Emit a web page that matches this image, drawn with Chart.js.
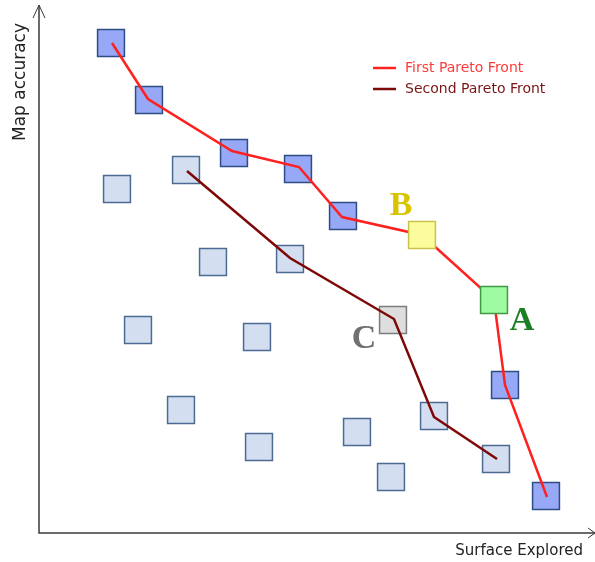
<!DOCTYPE html>
<html lang="en">
<head>
<meta charset="UTF-8" />
<title>Pareto Fronts</title>
<style>
  html, body { margin: 0; padding: 0; background: #fff; }
  #wrap { width: 595px; height: 562px; }
</style>
</head>
<body>
<div id="wrap"><canvas id="chart" width="595" height="562"></canvas></div>

<script src="https://cdn.jsdelivr.net/npm/chart.js"></script>
<script>
// values (arbitrary units, origin at the axes corner)
const firstFrontX = [73, 109, 193, 260, 303, 383, 455, 466, 508];
const firstFrontY = [490, 434, 382, 366, 316, 298, 233, 148, 36];

const secondFrontX = [148, 251, 355, 395, 458];
const secondFrontY = [362, 275, 214, 116, 74];

const frontPointX = [72, 110, 195, 259, 304, 466, 507];
const frontPointY = [490, 433, 380, 364, 317, 148, 37];

const otherPointX = [78, 147, 174, 251, 99, 218, 142, 220, 318, 395, 352, 457];
const otherPointY = [344, 363, 271, 274, 203, 196, 123, 86, 101, 117, 56, 74];

const markedLabels = ["B", "A"];
const markedX = [383, 455];
const markedY = [298, 233];

const cLabel = ["C"];
const cX = [354];
const cY = [213];

const xTitle = "Surface Explored";
const yTitle = "Map accuracy";

const toPts = (xs, ys) => xs.map((x, i) => ({ x: x, y: ys[i] }));

// axes with open arrow heads, titles, legend and A/B/C letters
const decor = {
  id: 'decor',
  afterDatasetsDraw(chart) {
    const ctx = chart.ctx;
    const a = chart.chartArea;
    ctx.save();
    ctx.strokeStyle = '#3a3a3a';
    ctx.lineWidth = 1.5;
    ctx.beginPath();
    ctx.moveTo(a.left, a.top);
    ctx.lineTo(a.left, a.bottom);
    ctx.lineTo(a.right, a.bottom);
    ctx.stroke();
    ctx.lineWidth = 1;
    ctx.beginPath();
    ctx.moveTo(a.left - 6, a.top + 13);
    ctx.lineTo(a.left, a.top);
    ctx.lineTo(a.left + 6, a.top + 13);
    ctx.moveTo(a.right - 7, a.bottom - 5);
    ctx.lineTo(a.right, a.bottom);
    ctx.lineTo(a.right - 7, a.bottom + 5);
    ctx.stroke();

    ctx.fillStyle = '#222';
    ctx.font = '15px "DejaVu Sans"';
    ctx.textAlign = 'right';
    ctx.textBaseline = 'middle';
    ctx.fillText(xTitle, 583, 551);
    ctx.translate(21, 82);
    ctx.rotate(-Math.PI / 2);
    ctx.textAlign = 'center';
    ctx.font = '17px "DejaVu Sans"';
    ctx.fillText(yTitle, 0, 0);
    ctx.restore();

    // legend
    ctx.save();
    ctx.font = '14px "DejaVu Sans"';
    ctx.textBaseline = 'middle';
    ctx.textAlign = 'left';
    const leg = [
      { ds: chart.data.datasets[1], y: 68, text: '#ff3a3a' },
      { ds: chart.data.datasets[2], y: 89, text: '#7a1414' }
    ];
    leg.forEach(l => {
      ctx.strokeStyle = l.ds.borderColor;
      ctx.lineWidth = l.ds.borderWidth;
      ctx.beginPath();
      ctx.moveTo(373, l.y);
      ctx.lineTo(396, l.y);
      ctx.stroke();
      ctx.fillStyle = l.text;
      ctx.fillText(l.ds.label, 405, l.y);
    });
    ctx.restore();

    // letters next to the marked points
    const xs = chart.scales.x, ys = chart.scales.y;
    ctx.save();
    ctx.font = 'bold 34px "Liberation Serif"';
    ctx.textAlign = 'center';
    ctx.textBaseline = 'middle';
    const letters = [
      { t: markedLabels[0], x: markedX[0], y: markedY[0], dx: -21, dy: -29, c: '#d9c400' },
      { t: markedLabels[1], x: markedX[1], y: markedY[1], dx: 28, dy: 21, c: '#1c7f24' },
      { t: cLabel[0], x: cX[0], y: cY[0], dx: -29, dy: 19, c: '#707070' }
    ];
    letters.forEach(l => {
      ctx.fillStyle = l.c;
      ctx.fillText(l.t, xs.getPixelForValue(l.x) + l.dx, ys.getPixelForValue(l.y) + l.dy);
    });
    ctx.restore();
  }
};

new Chart(document.getElementById('chart'), {
  type: 'scatter',
  data: {
    datasets: [
      {
        label: 'Marked',
        data: toPts(markedX, markedY),
        pointStyle: 'rect',
        pointRadius: 19,
        pointHoverRadius: 19,
        backgroundColor: ['#fbfc9c', '#9ffba2'],
        borderColor: ['#c9c24a', '#3f9a45'],
        borderWidth: 1.5
      },
      {
        label: 'First Pareto Front',
        data: toPts(firstFrontX, firstFrontY),
        showLine: true,
        borderColor: '#ff2020',
        borderWidth: 2.5,
        pointRadius: 0,
        pointHoverRadius: 0,
        tension: 0
      },
      {
        label: 'Second Pareto Front',
        data: toPts(secondFrontX, secondFrontY),
        showLine: true,
        borderColor: '#7e0808',
        borderWidth: 2.5,
        pointRadius: 0,
        pointHoverRadius: 0,
        tension: 0
      },
      {
        label: 'C',
        data: toPts(cX, cY),
        pointStyle: 'rect',
        pointRadius: 19,
        pointHoverRadius: 19,
        backgroundColor: '#dedede',
        borderColor: '#7c7c7c',
        borderWidth: 1.5
      },
      {
        label: 'Front points',
        data: toPts(frontPointX, frontPointY),
        pointStyle: 'rect',
        pointRadius: 19,
        pointHoverRadius: 19,
        backgroundColor: '#97a9f6',
        borderColor: '#2f4d85',
        borderWidth: 1.5
      },
      {
        label: 'Other points',
        data: toPts(otherPointX, otherPointY),
        pointStyle: 'rect',
        pointRadius: 19,
        pointHoverRadius: 19,
        backgroundColor: '#d3dff0',
        borderColor: '#4d6a95',
        borderWidth: 1.5
      }
    ]
  },
  options: {
    responsive: false,
    animation: false,
    clip: false,
    layout: { autoPadding: false, padding: { left: 39, right: 0, top: 5, bottom: 29 } },
    scales: {
      x: { type: 'linear', min: 0, max: 556, display: false },
      y: { type: 'linear', min: 0, max: 528, display: false }
    },
    plugins: {
      legend: { display: false },
      tooltip: { enabled: false }
    }
  },
  plugins: [decor]
});
</script>
</body>
</html>
